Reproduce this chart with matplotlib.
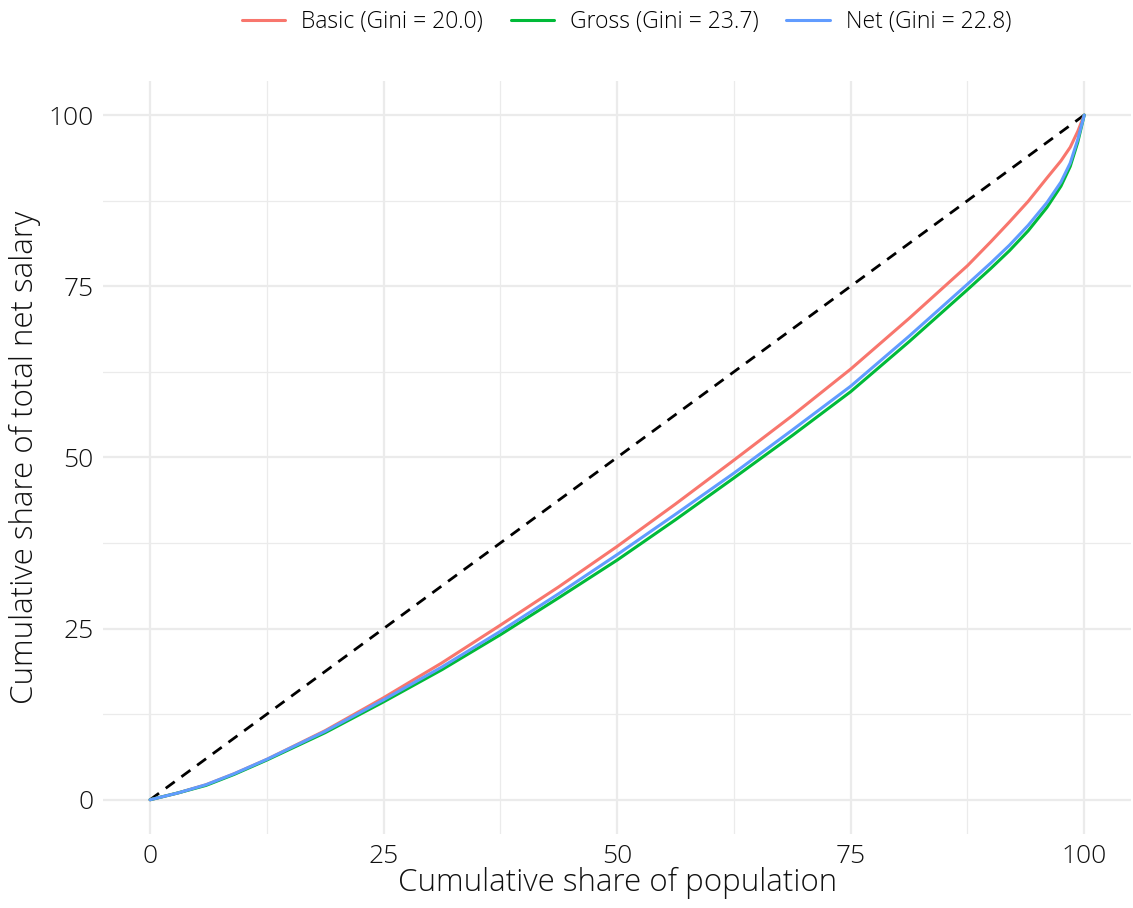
import matplotlib
matplotlib.use("Agg")
import matplotlib.pyplot as plt
from matplotlib.ticker import MultipleLocator

plt.rcParams['font.family'] = ['Open Sans', 'DejaVu Sans']

# cumulative share of population (%)
pop = [0, 3, 6, 9, 12.5, 18.75, 25, 31.25, 37.5, 43.75, 50, 56.25, 62.5,
       68.75, 75, 81.25, 87.5, 90, 92, 94, 96, 97.5, 98.5, 99.3, 100]

# cumulative share of salary (%)
basic = [0, 1.0, 2.2, 3.8, 5.9, 10.1, 14.9, 20.0, 25.5, 31.1, 37.0, 43.2, 49.6,
         56.1, 62.9, 70.3, 78.0, 81.5, 84.4, 87.4, 90.8, 93.3, 95.3, 97.6, 100]
gross = [0, 1.0, 2.1, 3.7, 5.8, 9.8, 14.3, 19.0, 24.1, 29.5, 35.0, 40.9, 47.0,
         53.2, 59.6, 66.9, 74.5, 77.6, 80.2, 83.1, 86.5, 89.6, 92.5, 96.0, 100]
net = [0, 1.0, 2.2, 3.8, 5.9, 10.0, 14.6, 19.4, 24.6, 30.1, 35.8, 41.7, 47.7,
       54.0, 60.4, 67.7, 75.3, 78.4, 81.0, 83.9, 87.2, 90.2, 93.0, 96.4, 100]

labels = ["Basic (Gini = 20.0)", "Gross (Gini = 23.7)", "Net (Gini = 22.8)"]
colors = ["#F8766D", "#00BA38", "#619CFF"]

fig = plt.figure(figsize=(11.33, 9.08), dpi=100)
ax = fig.add_axes([0.0912, 0.0815, 0.907, 0.8295])

ax.plot([0, 100], [0, 100], color="black", linestyle=(0, (4, 3)), linewidth=2.0, zorder=2)
for ys, lab, col in zip([basic, gross, net], labels, colors):
    ax.plot(pop, ys, color=col, linewidth=2.2, label=lab, zorder=3,
            solid_capstyle="round", solid_joinstyle="round")

ax.set_xlim(-5, 105)
ax.set_ylim(-5, 105)
ax.xaxis.set_major_locator(MultipleLocator(25))
ax.yaxis.set_major_locator(MultipleLocator(25))
ax.xaxis.set_minor_locator(MultipleLocator(12.5))
ax.yaxis.set_minor_locator(MultipleLocator(12.5))
ax.grid(True, which="major", color="#EBEBEB", linewidth=1.6, zorder=0)
ax.grid(True, which="minor", color="#EBEBEB", linewidth=0.9, zorder=0)
ax.set_axisbelow(True)
for s in ax.spines.values():
    s.set_visible(False)
ax.tick_params(which="both", length=0, labelsize=19, labelcolor="#111111", pad=7)
for t in ax.get_xticklabels() + ax.get_yticklabels():
    t.set_fontweight("light")

ax.set_xlabel("Cumulative share of population", fontsize=22.5, labelpad=-1,
              fontweight="light", color="#111111")
ax.set_ylabel("Cumulative share of total net salary", fontsize=22.5, labelpad=5,
              fontweight="light", color="#111111")

fig.legend(loc="upper center", bbox_to_anchor=(0.553, 1.012), ncol=3, frameon=False,
           handlelength=1.9, columnspacing=1.2, handletextpad=0.7,
           prop={"size": 16.5, "weight": "light"})

fig.savefig("out.png", dpi=100, facecolor="white")
